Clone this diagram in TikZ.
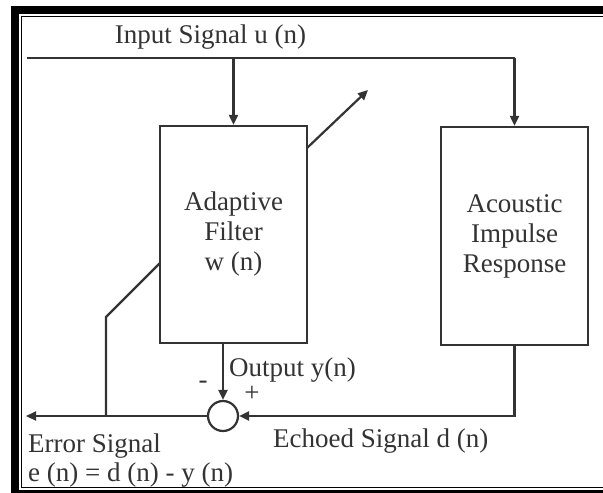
\documentclass[tikz,border=0pt]{standalone}
\usepackage{fontspec}
\setmainfont{Liberation Serif}
\usetikzlibrary{arrows.meta}
\definecolor{ln}{HTML}{333333}
\definecolor{tx}{HTML}{333333}
\begin{document}
\begin{tikzpicture}[x=1pt,y=-1pt,
  wire/.style={draw=ln,line width=2.2pt},
  arr/.style={wire,-{Triangle[length=10pt,width=9pt]}},
  blk/.style={draw=ln,line width=2.4pt,fill=white,minimum width=147pt,text=tx,align=center,
    font=\fontsize{27}{30}\selectfont,inner sep=0pt},
  lbl/.style={text=tx,font=\fontsize{27}{30}\selectfont,inner sep=0pt}]
\useasboundingbox (0,0) rectangle (603,493);
\fill[white] (0,0) rectangle (603,493);
\begin{scope}
\clip (0,0) rectangle (603,493);
\fill[black] (11,6) rectangle (610,500);
\fill[white] (19,14) rectangle (610,490);
\draw[black,line width=1.5pt] (21.5,16.5) rectangle (615,487.5);
\end{scope}
% blocks
\node[blk,minimum height=217pt] (filt) at (233.5,234.5) {Adaptive\\Filter\\w (n)};
\node[blk,minimum height=218pt] (room) at (514.5,236) {Acoustic\\Impulse\\Response};
\node[draw=ln,line width=2.2pt,circle,minimum size=30pt,inner sep=0pt,fill=white] (sum) at (223,416) {};
% coordinates
\coordinate (inL) at (27,58);
\coordinate (inR) at (514.5,58);
\coordinate (inB) at (233.5,58);
\coordinate (adjS) at (307,148);
\coordinate (adjE) at (368,90);
\coordinate (fbA) at (160,263);
\coordinate (fbB) at (106,317);
\coordinate (fbC) at (106,416);
\coordinate (outT) at (223,343);
\coordinate (rmC) at (514.5,416);
\coordinate (errE) at (26,416);
% wires
\draw[wire] (inL) -- (inR);
\draw[arr] (inR) -- (room.north);
\draw[arr] (inB) -- (filt.north);
\draw[arr] (adjS) -- (adjE);
\draw[wire] (fbA) -- (fbB) -- (fbC);
\draw[arr] (outT) -- (sum.north);
\draw[arr] (room.south) -- (rmC) -- (sum.east);
\draw[arr] (sum.west) -- (errE);
% labels
\node[lbl,anchor=base] (lin) at (210.5,43) {Input Signal u (n)};
\node[lbl,anchor=base west] (lout) at (229,376) {Output y(n)};
\node[lbl,anchor=center] (lminus) at (203,385) {-};
\node[lbl,anchor=center] (lplus) at (252,394) {+};
\node[lbl,anchor=base west] (lecho) at (273,447) {Echoed Signal d (n)};
\node[lbl,anchor=base west] (lerr) at (28,452) {Error Signal};
\node[lbl,anchor=base west] (leq) at (28,481) {e (n) = d (n) - y (n)};
\end{tikzpicture}
\end{document}
